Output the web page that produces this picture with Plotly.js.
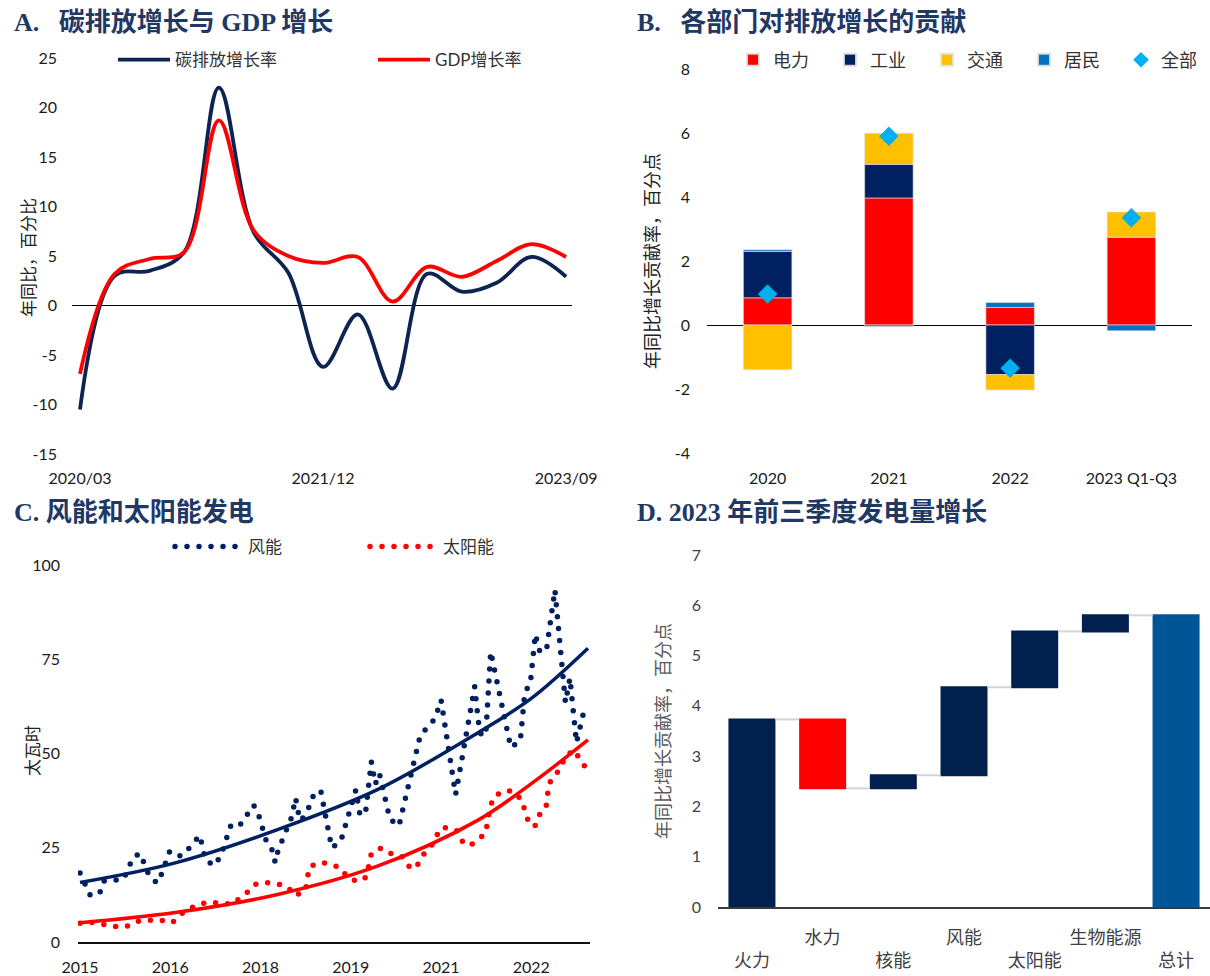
<!DOCTYPE html>
<html><head><meta charset="utf-8">
<script src="https://cdn.plot.ly/plotly-3.0.1.min.js"></script>
<style>html,body{margin:0;padding:0;background:#fff;overflow:hidden;width:1210px;height:976px;}#chart{width:1210px;height:976px;overflow:hidden;}</style>
</head><body><div id="chart"></div>
<script>
// ---------- Panel A data ----------
const periodsA = ['2020/03','2020/06','2020/09','2020/12','2021/03','2021/06','2021/09','2021/12','2022/03','2022/06','2022/09','2022/12','2023/03','2023/06','2023/09'];
const co2Growth = [-10.5, 3.0, 3.5, 5.4, 22.0, 7.4, 3.3, -6.2, -0.9, -8.4, 3.2, 1.4, 2.3, 4.9, 2.9];
const gdpGrowth = [-6.9, 3.2, 4.7, 5.4, 18.7, 7.6, 5.0, 4.3, 4.9, 0.4, 3.9, 2.9, 4.5, 6.2, 4.9];
const tickA = ['2020/03','2021/12','2023/09'];
const yTicksA = [-15,-10,-5,0,5,10,15,20,25];
const yTextA = ['-15','-10','-5','0','5','10','15','20','25'];

// ---------- Panel B data ----------
const yearsB = ['2020','2021','2022','2023 Q1-Q3'];
const powerB = [0.85, 3.97, 0.55, 2.75];
const industryB = [1.45, 1.05, -1.55, 0];
const transportB = [-1.40, 0.97, -0.48, 0.78];
const residentialB = [0.05, -0.05, 0.15, -0.18];
const totalB = [0.97, 5.90, -1.35, 3.35];
const yTicksB = [-4,-2,0,2,4,6,8];
const yTextB = ['-4','-2','0','2','4','6','8'];

// ---------- Panel C data (month index since 2015-01) ----------
const windMonth = [0,1.2,2.1,4,4.7,6.4,8.7,10.6,12,13.8,15.4,16.3,17.9,20.1,21.7,23.9,25,26.7,28,30.2,32.1,34.6,35.4,37.4,38.5,38.9,39.5,42.2,43,43.4,44,45.2,46.6,48,50.2,52,55,55.8,56.9,58.1,58.9,59.7,61.8,63.6,67.9,69.3,70.8,72,74.9,78.7,79.7,80.9,81.9,85.9,87.8,88.7,89.8,90.8,91.1,91.7,93,94.7,96.8,97.7,99,100.7];
const windTWh = [18.3,15.1,12.2,13.2,16.2,16.3,16.7,22.5,23.5,17.5,15.6,18.1,24.1,22.8,24.8,28.3,21.9,20.2,22.6,31.4,31.3,36.3,34.7,25.6,24.2,21.1,24.3,33.1,38.2,35,32.2,34.2,39.1,40.2,25,26.7,40.3,33.9,33.9,47.8,41.9,44.7,32.6,30.8,55.1,56.8,59.3,64.2,39.1,67.7,55.4,54.7,77,51.6,53.4,66.2,68.6,81.6,80.1,77,77.3,93.4,63.5,70,52.9,62.4];
const solarMonth = [0,2.2,4.6,6.8,9.2,11.2,13.6,16,18.4,19.7,21.6,23.6,25.8,28.2,30.4,31.7,33.3,34.9,37,39.4,41.4,42.8,45,45.3,45.8,47.9,49.9,51.9,53.4,55.4,57.1,57.6,58.1,60,61.8,64,65.4,67,68,69.3,70.8,71.6,73.2,75.2,76.3,77.7,79.4,80.9,81.7,82.5,84.2,86.2,88,89.5,90.7,91.5,92.9,93.5,94.7,95.9,96.7,98.7,99.5,100.7];
const solarTWh = [5,5.2,4.7,4.1,4.1,5.4,5.8,5.8,5.1,7,8.7,10,10.6,10.4,10,11.4,13.1,15.3,15.8,15.4,14.7,12.3,13.6,16.8,20,21.1,20.7,19.7,17.1,16,17.2,20.3,23.5,24.9,23.5,23,20.2,19.5,22.5,24.4,26.8,29.9,30.4,29.5,26.6,25.5,27.1,28.8,35.4,38.4,40,40.1,37.8,31.6,30.6,33.6,35.4,41.9,44.3,46.1,49.3,50.9,48.7,46.5];
const trendMonth = [0,19,39.4,59.3,79.2,90,101.3];
const windTrend = [15.8,21,29.8,40.4,55.4,64.6,77.9];
const solarTrend = [5.1,7.8,12.6,20.1,32.2,42,53.6];
const tickMonthC = [0,18,36,54,72,90];
const tickTextC = ['2015','2016','2018','2019','2021','2022'];

// ---------- Panel D data ----------
const sourcesD = ['火力','水力','核能','风能','太阳能','生物能源','总计'];
const sourceLabelsD = ['\u00a0<br>火力','水力','\u00a0<br>核能','风能','\u00a0<br>太阳能','生物能源','\u00a0<br>总计'];
const contribD = [3.73, -1.37, 0.26, 1.75, 1.11, 0.32, 0];
const measureD = ['relative','relative','relative','relative','relative','relative','total'];

// ---------- styling ----------
const W = 1210, H = 976;
const px = v => v / W;
const py = v => 1 - v / H;
const SANS = "Lato, 'Noto Sans CJK SC', sans-serif";
const CJK = "'Noto Sans CJK SC', sans-serif";
const SERIF = "'Liberation Serif', 'Noto Sans CJK SC', serif";
const NAVY = '#0d2452', RED = '#ff0000';
const tickF = {family: SANS, size: 16, color: '#1a1a1a'};
const segLine = {width: 0.7, color: 'rgba(225,225,225,0.9)'};

const traces = [
  // A
  {type:'scatter', mode:'lines', x: periodsA, y: co2Growth, name:'碳排放增长率', xaxis:'x', yaxis:'y', legend:'legend',
   line:{color: NAVY, width: 3.8, shape:'spline', smoothing: 1}},
  {type:'scatter', mode:'lines', x: periodsA, y: gdpGrowth, name:'GDP增长率', xaxis:'x', yaxis:'y', legend:'legend', legendwidth: 95,
   line:{color: RED, width: 3.8, shape:'spline', smoothing: 1}},
  // B
  {type:'bar', x: yearsB, y: powerB, name:'电力', xaxis:'x2', yaxis:'y2', legend:'legend2', width:0.4, marker:{color:'#ff0000', line: segLine}},
  {type:'bar', x: yearsB, y: industryB, name:'工业', xaxis:'x2', yaxis:'y2', legend:'legend2', width:0.4, marker:{color:'#002060', line: segLine}},
  {type:'bar', x: yearsB, y: transportB, name:'交通', xaxis:'x2', yaxis:'y2', legend:'legend2', width:0.4, marker:{color:'#ffc000', line: segLine}},
  {type:'bar', x: yearsB, y: residentialB, name:'居民', xaxis:'x2', yaxis:'y2', legend:'legend2', width:0.4, marker:{color:'#0070c0', line: segLine}},
  {type:'scatter', mode:'markers', x: yearsB, y: totalB, name:'全部', xaxis:'x2', yaxis:'y2', legend:'legend2', legendwidth: 30,
   marker:{symbol:'diamond', size:15, color:'#00b0f0'}},
  // C
  {type:'scatter', mode:'lines', x: windMonth, y: windTWh, name:'风能', xaxis:'x3', yaxis:'y3', legend:'legend3',
   line:{color:'#002060', width:5.5, dash:'0px,12px'}},
  {type:'scatter', mode:'lines', x: solarMonth, y: solarTWh, name:'太阳能', xaxis:'x3', yaxis:'y3', legend:'legend3', legendwidth: 60,
   line:{color:RED, width:5.5, dash:'0px,12px'}},
  {type:'scatter', mode:'lines', x: trendMonth, y: windTrend, name:'风能趋势', showlegend:false, xaxis:'x3', yaxis:'y3',
   line:{color:'#002060', width:3.5, shape:'spline'}},
  {type:'scatter', mode:'lines', x: trendMonth, y: solarTrend, name:'太阳能趋势', showlegend:false, xaxis:'x3', yaxis:'y3',
   line:{color:RED, width:3.5, shape:'spline'}},
  // D
  {type:'waterfall', x: sourcesD, y: contribD, measure: measureD, xaxis:'x4', yaxis:'y4', showlegend:false,
   width:0.665, textposition:'none',
   increasing:{marker:{color:'#00204e'}}, decreasing:{marker:{color:'#ff0000'}}, totals:{marker:{color:'#005596'}},
   connector:{mode:'between', line:{color:'#d4d4d4', width:2}}}
];

const titleFont = {family: SERIF, size: 26, color: '#1f3864', weight: 'bold'};
const axTitleFont = {family: CJK, size: 17, color: '#222'};
const layout = {
  width: W, height: H, margin:{l:0, r:0, t:0, b:0, autoexpand:false},
  paper_bgcolor:'#fff', plot_bgcolor:'rgba(0,0,0,0)',
  barmode:'relative', hovermode:false, showlegend:true,
  xaxis:{domain:[px(72), px(572)], anchor:'y', type:'category', range:[-0.23, 14.17], tickvals: tickA,
         showgrid:false, zeroline:false, showline:false, ticks:'', tickangle:0, tickfont: tickF, ticklabelstandoff: 13},
  yaxis:{domain:[py(454), py(58)], anchor:'x', range:[-15, 25], tickvals: yTicksA, ticktext: yTextA,
         showgrid:false, zeroline:true, zerolinecolor:'#000', zerolinewidth:1, showline:false, ticks:'',
         tickfont: tickF, ticklabelstandoff: 14},
  xaxis2:{domain:[px(707), px(1192)], anchor:'y2', type:'category', range:[-0.5, 3.5],
          showgrid:false, zeroline:false, showline:false, ticks:'', tickangle:0, tickfont: tickF, ticklabelstandoff: 14},
  yaxis2:{domain:[py(453), py(69)], anchor:'x2', range:[-4, 8], tickvals: yTicksB, ticktext: yTextB,
          showgrid:false, zeroline:true, zerolinecolor:'#000', zerolinewidth:1, showline:false, ticks:'',
          tickfont: tickF, ticklabelstandoff: 16,
          title:{text:'年同比增长贡献率，百分点', font:{family:CJK, size:18, color:'#222'}, standoff: 10}},
  xaxis3:{domain:[px(78), px(590)], anchor:'y3', range:[-0.4, 101.7], tickvals: tickMonthC, ticktext: tickTextC,
          showgrid:false, zeroline:false, showline:true, linecolor:'#111', linewidth:1.6, ticks:'', tickangle:0,
          tickfont: tickF, ticklabelstandoff: 10},
  yaxis3:{domain:[py(942), py(565)], anchor:'x3', range:[0, 100], tickvals:[0,25,50,75,100],
          showgrid:false, zeroline:false, showline:false, ticks:'', tickfont: tickF, ticklabelstandoff: 17},
  xaxis4:{domain:[px(718), 1], anchor:'y4', type:'category', range:[-0.48, 6.48], tickvals: sourcesD, ticktext: sourceLabelsD,
          showgrid:false, zeroline:false, showline:true, linecolor:'#3a3a3a', linewidth:2, ticks:'', tickangle:0,
          tickfont:{family:CJK, size:18, color:'#404040'}, ticklabelstandoff: 13},
  yaxis4:{domain:[py(907), py(555)], anchor:'x4', range:[0, 7], dtick:1,
          showgrid:false, zeroline:false, showline:false, ticks:'', tickfont:{family:SANS, size:16, color:'#404040'},
          ticklabelstandoff: 16,
          title:{text:'年同比增长贡献率，百分点', font:{family:CJK, size:18, color:'#595959'}, standoff: 16}},
  legend:{orientation:'h', x:px(113), xanchor:'left', y:py(60), yanchor:'middle', bgcolor:'rgba(0,0,0,0)',
          itemwidth:52, entrywidth:193, entrywidthmode:'pixels', font:{family:SANS, size:17, color:'#333'}},
  legend2:{orientation:'h', x:px(733), xanchor:'left', y:py(60), yanchor:'middle', bgcolor:'rgba(0,0,0,0)',
          itemwidth:30, entrywidth:52, entrywidthmode:'pixels', itemsizing:'constant', traceorder:'normal',
          font:{family:SANS, size:18, color:'#333'}},
  legend3:{orientation:'h', x:px(170), xanchor:'left', y:py(547), yanchor:'middle', bgcolor:'rgba(0,0,0,0)',
          itemwidth:68, entrywidth:112, entrywidthmode:'pixels', font:{family:SANS, size:17, color:'#333'}},
  annotations:[
    {text:'A.\u00a0\u00a0\u00a0碳排放增长与 GDP 增长', x:px(12), y:py(22), xref:'paper', yref:'paper', xanchor:'left', yanchor:'middle', showarrow:false, font: titleFont},
    {text:'B.\u00a0\u00a0\u00a0各部门对排放增长的贡献', x:px(635), y:py(22), xref:'paper', yref:'paper', xanchor:'left', yanchor:'middle', showarrow:false, font: titleFont},
    {text:'C. 风能和太阳能发电', x:px(12), y:py(512), xref:'paper', yref:'paper', xanchor:'left', yanchor:'middle', showarrow:false, font: titleFont},
    {text:'D. 2023 年前三季度发电量增长', x:px(635), y:py(512), xref:'paper', yref:'paper', xanchor:'left', yanchor:'middle', showarrow:false, font: titleFont},
    {text:'年同比，百分比', textangle:-90, x:px(27), y:py(258), xref:'paper', yref:'paper', xanchor:'center', yanchor:'middle', showarrow:false, font: axTitleFont},
    {text:'太瓦时', textangle:-90, x:px(31), y:py(751), xref:'paper', yref:'paper', xanchor:'center', yanchor:'middle', showarrow:false, font: axTitleFont}
  ]
};

Plotly.newPlot('chart', traces, layout, {staticPlot:true, displayModeBar:false}).then(gd => {
  gd.querySelectorAll('path').forEach(p => {
    const d = p.style.strokeDasharray || '';
    if (d.replace(/\s/g,'').startsWith('0px')) p.style.strokeLinecap = 'round';
  });
});
</script></body></html>
